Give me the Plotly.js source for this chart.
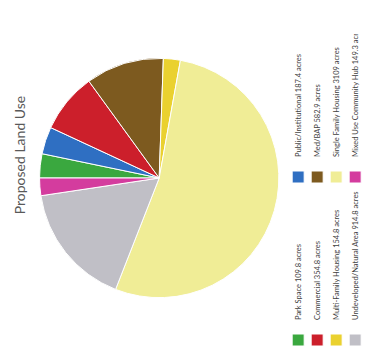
<!DOCTYPE html>
<html>
<head>
<meta charset="utf-8">
<script src="https://cdn.plot.ly/plotly-3.0.1.min.js"></script>
<style>
html,body{margin:0;padding:0;background:#fff;overflow:hidden;width:370px;height:360px;}
#wrap{position:absolute;left:0;top:0;width:360px;height:370px;transform-origin:0 0;transform:translate(0px,360px) rotate(-90deg);}
#chart{width:360px;height:370px;}
</style>
</head>
<body>
<div id="wrap"><div id="chart"></div></div>
<script>
// Land use categories (legend order = slice order, clockwise from 12 o'clock)
const categories = [
  "Park Space 109.8 acres",
  "Public/Institutional 187.4 acres",
  "Commercial 354.8 acres",
  "Med/BAP 582.9 acres",
  "Multi-Family Housing 154.8 acres",
  "Single Family Housing 3109 acres",
  "Undeveloped/Natural Area 914.8 acres",
  "Mixed Use Community Hub 149.3 acres"
];
// Slice sizes (acres, approximate)
const acres = [191, 215, 474, 619, 134, 3115, 979, 139];
const sliceColors = ["#3aa83f", "#2f6fc2", "#cc1f2b", "#7d5a1f", "#ead12f", "#f0ed96", "#c0bfc6", "#d43c9e"];

const trace = {
  type: "pie",
  labels: categories,
  values: acres,
  sort: false,
  direction: "clockwise",
  rotation: 0,
  textinfo: "none",
  hoverinfo: "label+percent",
  marker: {colors: sliceColors, line: {color: "#ffffff", width: 1}},
  domain: {x: [58/360, 306/360], y: [1 - 289/370, 1 - 41/370]}
};

const layout = {
  width: 360, height: 370,
  margin: {l: 0, r: 0, t: 0, b: 0},
  paper_bgcolor: "#ffffff",
  font: {family: "Lato, 'Open Sans', sans-serif", color: "#404040"},
  title: {text: "Proposed Land Use", font: {size: 14, color: "#595959", family: "Lato, 'Open Sans', sans-serif"},
          x: 205/360, xanchor: "center", y: 1 - 20/370, yanchor: "middle"},
  showlegend: true,
  legend: {orientation: "h", x: 0, xanchor: "left", y: 1 - 294/370, yanchor: "top",
           entrywidth: 118, entrywidthmode: "pixels", traceorder: "normal",
           font: {size: 7.5, color: "#404040"}, itemwidth: 30, tracegroupgap: 0}
};

Plotly.newPlot("chart", [trace], layout, {staticPlot: true, displayModeBar: false});
</script>
</body>
</html>
